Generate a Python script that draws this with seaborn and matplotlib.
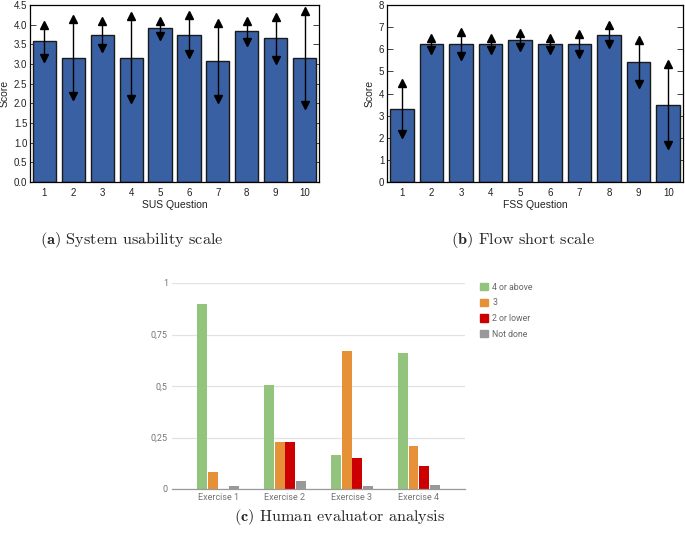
import matplotlib
matplotlib.use("Agg")
import numpy as np
import pandas as pd
import matplotlib.pyplot as plt
import seaborn as sns

# SUS / FSS questionnaire scores (mean and standard deviation per question)
questions = [str(i) for i in range(1, 11)]
sus_mean = [3.58, 3.16, 3.75, 3.16, 3.91, 3.75, 3.07, 3.83, 3.65, 3.16]
sus_sd = [0.42, 0.98, 0.35, 1.06, 0.19, 0.50, 0.96, 0.27, 0.55, 1.19]
fss_mean = [3.32, 6.24, 6.24, 6.24, 6.41, 6.24, 6.24, 6.66, 5.41, 3.49]
fss_sd = [1.17, 0.28, 0.55, 0.28, 0.32, 0.28, 0.44, 0.44, 1.00, 1.83]

# human evaluator shares per exercise
exercises = ["Exercise 1", "Exercise 2", "Exercise 3", "Exercise 4"]
ratings = ["4 or above", "3", "2 or lower", "Not done"]
share_high = [0.900, 0.505, 0.165, 0.658]
share_mid = [0.082, 0.227, 0.669, 0.208]
share_low = [0.000, 0.227, 0.150, 0.111]
share_none = [0.013, 0.040, 0.013, 0.020]
rating_colors = ["#93c47d", "#e69138", "#cc0000", "#999999"]

sns.set_theme(style="white")
plt.rcParams["font.family"] = ["Liberation Sans", "DejaVu Sans"]
plt.rcParams["mathtext.fontset"] = "cm"

W, H = 685, 541
fig = plt.figure(figsize=(W / 100, H / 100), dpi=100)


def px_axes(left, top, right, bottom):
    return fig.add_axes([left / W, 1 - bottom / H, (right - left) / W, (bottom - top) / H])


def score_panel(ax, means, sds, xlabel, ymax, ystep):
    df = pd.DataFrame({"question": questions, "score": means})
    sns.barplot(data=df, x="question", y="score", ax=ax, color="#3a60a4",
                saturation=1, width=0.8, edgecolor="#1a1a1a", linewidth=1.0,
                errorbar=None)
    pos = np.arange(len(means))
    m = np.array(means)
    s = np.array(sds)
    ax.errorbar(pos, m, yerr=s, fmt="none", ecolor="black", elinewidth=1.0,
                capsize=0, zorder=3)
    ax.plot(pos, m + s, linestyle="none", marker="^", color="black",
            markersize=5.5, zorder=4)
    ax.plot(pos, m - s, linestyle="none", marker="v", color="black",
            markersize=5.5, zorder=4)
    ax.set_ylim(0, ymax)
    ax.set_xlim(-0.5, len(means) - 0.5)
    ax.set_yticks(np.arange(0, ymax + 0.001, ystep))
    if ystep < 1:
        ax.set_yticklabels([f"{v:.1f}" for v in np.arange(0, ymax + 0.001, ystep)])
    ax.set_xlabel(xlabel, fontsize=7.5, labelpad=2, color="#222222")
    ax.set_ylabel("Score", fontsize=7.5, labelpad=3, color="#222222")
    ax.tick_params(axis="y", direction="in", length=4, width=0.6, labelsize=7,
                   left=True, right=True, pad=2, colors="#222222")
    ax.tick_params(axis="x", length=0, labelsize=7, pad=4, colors="#222222")
    for sp in ax.spines.values():
        sp.set_color("black")
        sp.set_linewidth(0.9)


ax_a = px_axes(30, 5, 319, 182)
score_panel(ax_a, sus_mean, sus_sd, "SUS Question", 4.5, 0.5)

ax_b = px_axes(387, 5, 683, 182)
score_panel(ax_b, fss_mean, fss_sd, "FSS Question", 8, 1)

# panel c
df_c = pd.DataFrame({
    "exercise": exercises * 4,
    "rating": np.repeat(ratings, len(exercises)),
    "share": share_high + share_mid + share_low + share_none,
})
ax_c = px_axes(172, 283, 465, 489)
sns.barplot(data=df_c, x="exercise", y="share", hue="rating", hue_order=ratings,
            palette=rating_colors, saturation=1, width=0.64, gap=0.08,
            errorbar=None, linewidth=0, ax=ax_c)
ax_c.set_xlim(-0.69, 3.69)
ax_c.set_ylim(0, 1)
ax_c.set_yticks([0, 0.25, 0.5, 0.75, 1])
ax_c.set_yticklabels(["0", "0,25", "0,5", "0,75", "1"])
ax_c.grid(axis="y", color="#e2e2e2", linewidth=0.9)
ax_c.set_axisbelow(True)
for name, sp in ax_c.spines.items():
    sp.set_visible(name == "bottom")
ax_c.spines["bottom"].set_color("#9a9a9a")
ax_c.spines["bottom"].set_linewidth(0.9)
ax_c.set_xlabel("")
ax_c.set_ylabel("")
ax_c.tick_params(length=0, labelsize=6.5, labelcolor="#757575", pad=3)
for t in ax_c.get_xticklabels() + ax_c.get_yticklabels():
    t.set_fontfamily(["Roboto", "DejaVu Sans"])
ax_c.get_legend().remove()
handles = [plt.Rectangle((0, 0), 1, 1, color=c) for c in rating_colors]
leg = fig.legend(handles, ratings, loc="upper left",
                 bbox_to_anchor=(472 / W, 1 - 275 / H), frameon=False,
                 handlelength=0.9, handleheight=0.9, handletextpad=0.5,
                 labelspacing=0.75, prop={"family": "Roboto", "size": 6.3})
for t in leg.get_texts():
    t.set_color("#666666")

# sub-captions
cap = dict(ha="center", va="center", fontsize=11.7, family="cmr10")
fig.text(132 / W, 1 - 240 / H, r"$\mathbf{(a)}$ System usability scale", **cap)
fig.text(523 / W, 1 - 240 / H, r"$\mathbf{(b)}$ Flow short scale", **cap)
fig.text(340 / W, 1 - 517 / H, r"$\mathbf{(c)}$ Human evaluator analysis", **cap)

fig.savefig("out.png", dpi=100)
